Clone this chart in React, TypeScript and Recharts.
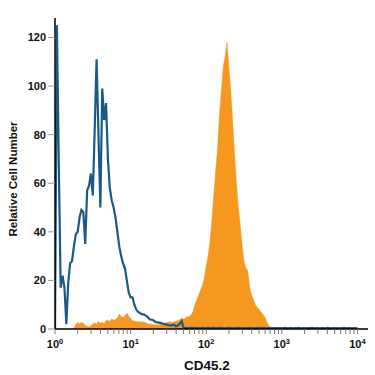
import { ComposedChart, Area, Line, XAxis, YAxis, Label } from 'recharts'

// counts per channel, 40 channels per decade, channel 0 = 10^0
const isotypeCounts = [
  0, 125, 68, 17, 22, 17, 2, 19, 27, 28,
  34, 39, 40, 46, 49, 48, 35, 57, 59, 64,
  55, 82, 111, 80, 50, 99, 86, 93, 70, 58,
  53, 50, 46, 40, 34, 30, 27, 25, 20, 15,
  13, 13, 10, 8, 7, 6.6, 6, 6, 5.5, 5,
  4, 3.8, 3.6, 3, 2.7, 2.6, 2.5, 2.2, 2, 1.8,
  1.6, 1.4, 1.6, 1.8, 1.1, 1.5, 2.2, 3.2, 0.5,
  0.4, 0.5, 0.3, 0.6, 0.4, 0.4, 0.5, 0.3, 0.4, 0.5,
  0.4, 0.3, 0.5, 0.4, 0.4, 0.6, 0.3, 0.4, 0.5, 0.4,
  0.4, 0.3, 0.4, 0.5, 0.4, 0.3, 0.4, 0.4, 0.5, 0.3,
  0.4, 0.4, 0.3, 0.5, 0.4, 0.4, 0.3, 0.4, 0.4, 0.5,
  0.3, 0.4, 0.4, 0.3, 0.4, 0.5, 0.4, 0.3, 0.4, 0.4,
  0.3, 0.4, 0.4, 0.5, 0.3, 0.4, 0.4, 0.3, 0.4, 0.4,
  0.5, 0.3, 0.4, 0.4, 0.3, 0.4, 0.4, 0.5, 0.3, 0.4,
  0.4, 0.3, 0.4, 0.4, 0.3, 0.5, 0.4, 0.3, 0.4, 0.4,
  0.4, 0.3, 0.4, 0.4, 0.5, 0.3, 0.4, 0.4, 0.3, 0.4,
  0.4, 0.3,
]

const cd45Counts = [
  0, 0, 0, 0, 0, 0, 0, 0, 0, 0,
  0, 2, 2.6, 2.2, 2.8, 2.4, 1.5, 1, 0.8, 1.2,
  2.2, 2.6, 2, 3.2, 2.4, 2.8, 2.2, 3.4, 3.6, 3,
  4.2, 3.6, 4, 4.4, 6.2, 5, 4.8, 5.4, 6.6, 5.2,
  4.4, 3.4, 3.2, 3, 3.1, 2.9, 3, 2.8, 2.6, 2.2,
  2, 2, 1.8, 1.8, 1.6, 1.8, 2, 2.2, 2.4, 2.6,
  2.8, 3, 2.6, 3, 3.2, 3.4, 3.8, 4.5, 4, 4.5,
  5, 5, 6, 7, 10, 12, 14, 16, 18, 21,
  26, 30, 36, 45, 55, 65, 74, 88, 98, 108,
  112, 118, 108, 98, 85, 72, 60, 50, 43, 34,
  28, 25, 24, 17, 14, 12, 10, 9, 8, 7,
  6, 5, 3, 1.5, 0.6, 0.3, 0.8, 0.2, 0,
]

const decadeExponents = ['0', '1', '2', '3', '4']
const yTicks = [0, 20, 40, 60, 80, 100, 120]

const perDecade = 40
const majorTicks = decadeExponents.map((_, d) => d * perDecade)
const minorTicks: number[] = []
for (let d = 0; d < 4; d++) {
  for (let k = 2; k <= 9; k++) minorTicks.push((d + Math.log10(k)) * perDecade)
}
const xTicks = [...majorTicks, ...minorTicks].sort((a, b) => a - b)

const rows = isotypeCounts.map((v, i) => ({
  ch: i,
  isotype: v,
  cd45: i < cd45Counts.length ? cd45Counts[i] : null,
}))

const font = "'Liberation Sans', Arial, sans-serif"

function DecadeTick(props: any) {
  const { x, y, payload } = props
  const idx = majorTicks.indexOf(payload.value)
  if (idx < 0) return null
  return (
    <text
      x={x}
      y={y + 12}
      textAnchor="middle"
      fontFamily={font}
      fontWeight={700}
      fontSize={11}
      fill="#111"
    >
      10
      <tspan dy={-4} fontSize={7.5}>
        {decadeExponents[idx]}
      </tspan>
    </text>
  )
}

export default function App() {
  return (
    <div
      style={{
        position: 'absolute',
        left: 0,
        top: 0,
        width: 375,
        height: 375,
        background: '#fff',
      }}
    >
      <ComposedChart
        width={375}
        height={375}
        data={rows}
        margin={{ top: 18, right: 7, bottom: 0, left: 10 }}
      >
        <XAxis
          dataKey="ch"
          type="number"
          domain={[0, 165.6]}
          allowDataOverflow
          ticks={xTicks}
          interval={0}
          height={46}
          tickSize={5}
          tickMargin={2}
          tick={<DecadeTick />}
          tickLine={{ stroke: '#777' }}
          axisLine={{ stroke: '#000', strokeWidth: 1.5 }}
        >
          <Label
            content={() => (
              <text
                x={207}
                y={370}
                textAnchor="middle"
                fontFamily={font}
                fontWeight={700}
                fontSize={13.5}
                fill="#111"
              >
                CD45.2
              </text>
            )}
          />
        </XAxis>
        <YAxis
          type="number"
          domain={[0, 128]}
          allowDataOverflow
          ticks={yTicks}
          interval={0}
          width={45}
          tickSize={7}
          tickMargin={2}
          tick={{ fontSize: 11, fontWeight: 700, fill: '#111', fontFamily: font }}
          tickLine={{ stroke: '#999' }}
          axisLine={{ stroke: '#000', strokeWidth: 1.5 }}
        >
          <Label
            content={() => (
              <text
                x={17}
                y={179}
                transform="rotate(-90, 17, 179)"
                textAnchor="middle"
                fontFamily={font}
                fontWeight={700}
                fontSize={11.5}
                fill="#111"
              >
                Relative Cell Number
              </text>
            )}
          />
        </YAxis>
        <Area
          type="linear"
          dataKey="cd45"
          stroke="#f6971f"
          strokeWidth={0.5}
          fill="#f6971f"
          fillOpacity={1}
          isAnimationActive={false}
        />
        <Line
          type="linear"
          dataKey="isotype"
          stroke="#1a5a87"
          strokeWidth={2.2}
          dot={false}
          isAnimationActive={false}
        />
      </ComposedChart>
    </div>
  )
}
